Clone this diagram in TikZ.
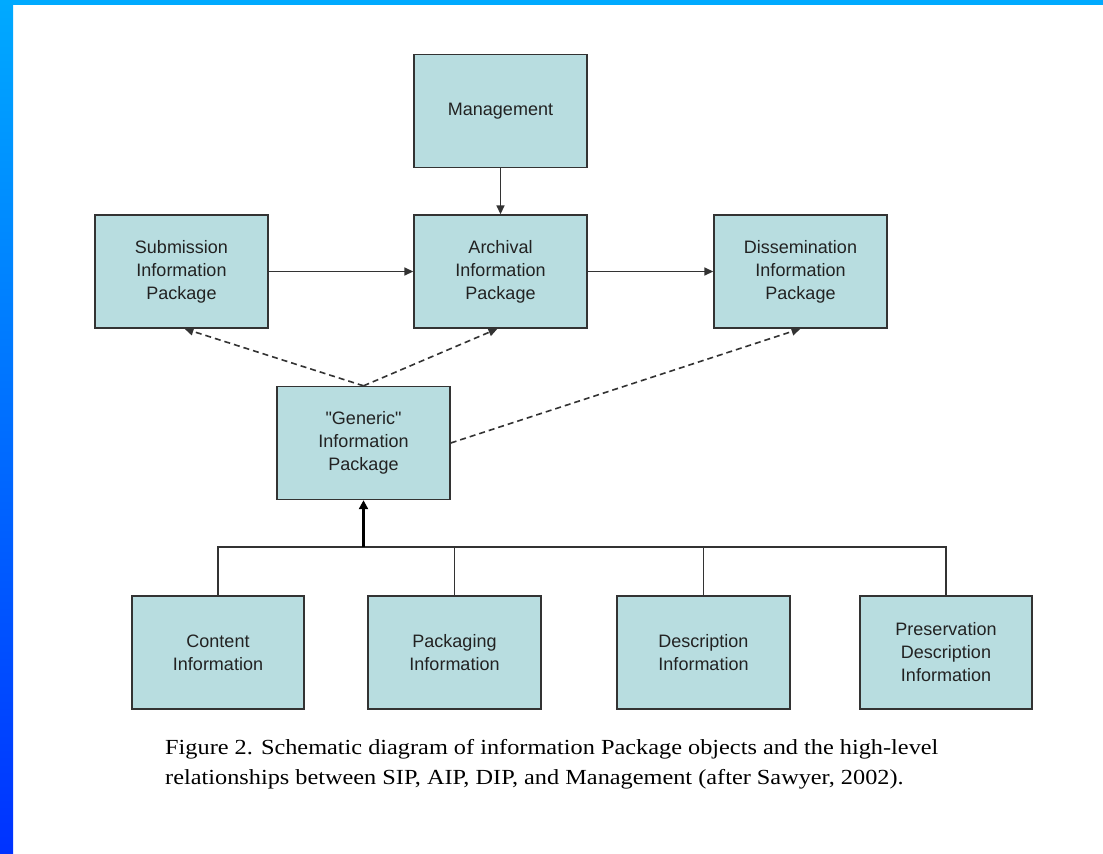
\documentclass[tikz,border=0pt]{standalone}
\usepackage{fontspec}
\setmainfont{Liberation Serif}
\newfontfamily\boxfont{Liberation Sans}
\newfontfamily\capfont[FakeStretch=1.13]{Liberation Serif}
\usetikzlibrary{arrows.meta}
\definecolor{boxfill}{RGB}{184,221,224}
\definecolor{boxline}{RGB}{51,51,51}
\definecolor{boxtext}{RGB}{34,34,34}
\definecolor{bartop}{RGB}{0,170,255}
\definecolor{barbot}{RGB}{0,50,255}
\tikzset{
  pkg/.style={draw=boxline, line width=1.4pt, fill=boxfill, minimum width=173pt, minimum height=113pt,
    inner sep=0pt, align=center, font=\boxfont\fontsize{18}{23}\selectfont, text=boxtext},
  conn/.style={draw=boxline, line width=1.6pt},
  arr/.style={conn, -{Triangle[length=9pt,width=8pt]}},
  dasharr/.style={conn, line width=1.6pt, dash pattern=on 6pt off 4pt, -{Triangle[length=9pt,width=8pt]}},
  thickarr/.style={draw=black, line width=3pt, -{Triangle[length=9pt,width=9pt]}},
}
\begin{document}
\begin{tikzpicture}[x=1pt,y=-1pt]
\useasboundingbox (0,0) rectangle (1103,854);
\fill[white] (0,0) rectangle (1103,854);
\shade[top color=bartop, bottom color=barbot] (0,0) rectangle (13,854);
\fill[bartop] (0,0) rectangle (1103,5);

\node[pkg] (mgmt) at (500.5,111) {Management};
\node[pkg] (sip) at (181.5,271.5) {Submission\\Information\\Package};
\node[pkg] (aip) at (500.5,271.5) {Archival\\Information\\Package};
\node[pkg] (dip) at (800.5,271.5) {Dissemination\\Information\\Package};
\node[pkg] (gen) at (363.5,443) {"Generic"\\Information\\Package};
\node[pkg, minimum width=172pt] (ci) at (218,652.5) {Content\\Information};
\node[pkg] (pi) at (454.5,652.5) {Packaging\\Information};
\node[pkg] (di) at (703.5,652.5) {Description\\Information};
\node[pkg, minimum width=172pt] (pdi) at (946,652.5) {Preservation\\Description\\Information};
\coordinate (bus) at (363.5,547);

\draw[arr] (mgmt) -- (aip);
\draw[arr] (sip) -- (aip);
\draw[arr] (aip) -- (dip);
\draw[dasharr] (gen.north) -- ([xshift=3pt]sip.south);
\draw[dasharr] (gen.north) -- ([xshift=-3pt]aip.south);
\draw[dasharr] (gen.east) -- (dip.south);

\draw[conn] (ci.north) -- (ci.north |- bus) -- (pdi.north |- bus) -- (pdi.north);
\draw[conn] (pi.north) -- (pi.north |- bus);
\draw[conn] (di.north) -- (di.north |- bus);
\draw[thickarr] (bus) -- (gen.south);

\node[anchor=base west, align=left, font=\capfont\fontsize{21.5}{30}\selectfont, text=black, inner sep=0pt] (cap) at (165,784)
  {Figure 2. Schematic diagram of information Package objects and the high-level\\
   relationships between SIP, AIP, DIP, and Management (after Sawyer, 2002).};
\end{tikzpicture}
\end{document}
